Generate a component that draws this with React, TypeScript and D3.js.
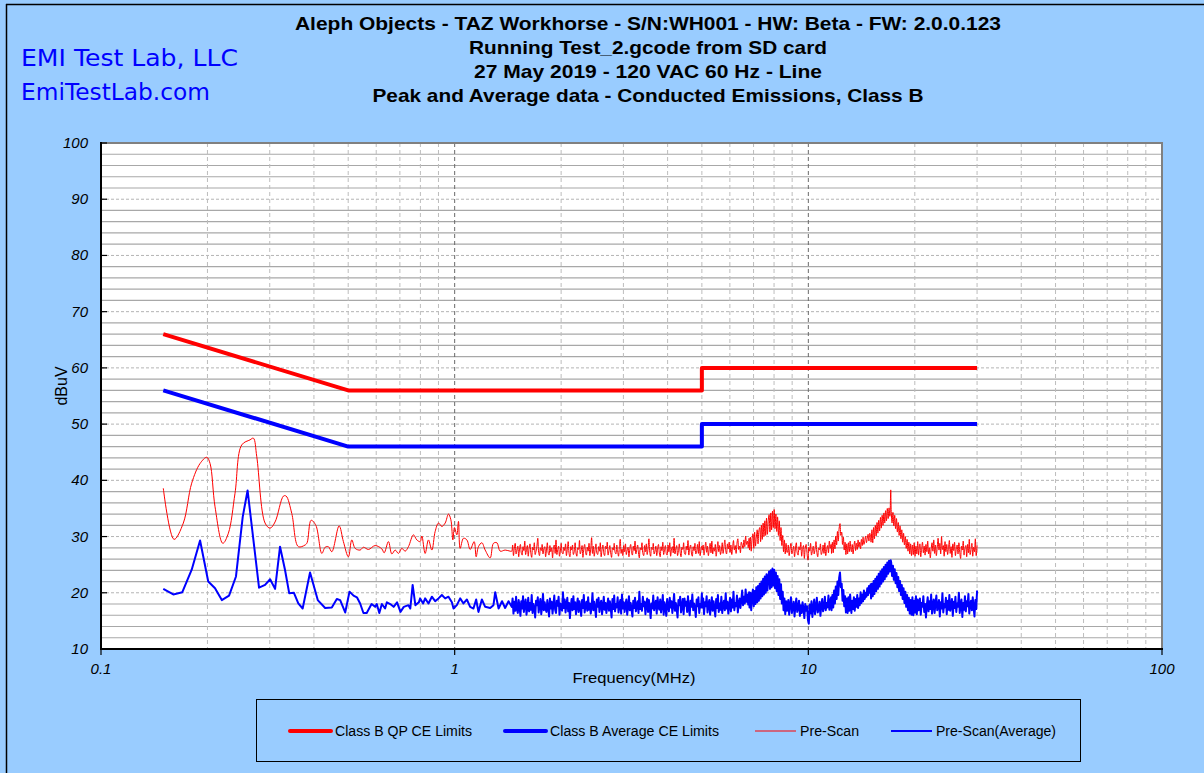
import React from "react";
import * as d3 from "d3";

// ---------- DATA ----------
const titleLines = [
  "Aleph Objects - TAZ Workhorse - S/N:WH001 - HW: Beta - FW: 2.0.0.123",
  "Running Test_2.gcode from SD card",
  "27 May 2019 - 120 VAC 60 Hz - Line",
  "Peak and Average data - Conducted Emissions, Class B",
];
const titleWidths = [706, 358, 348, 551];
const yTicks = [10, 20, 30, 40, 50, 60, 70, 80, 90, 100];
const xTicks = [0.1, 1, 10, 100];
const xTickLabels = ["0.1", "1", "10", "100"];

// Limits [MHz, dBuV]
const qpLimit: [number, number][] = [[0.15, 66], [0.5, 56], [5, 56], [5, 60], [30, 60]];
const avgLimit: [number, number][] = [[0.15, 56], [0.5, 46], [5, 46], [5, 50], [30, 50]];

// Pre-scan (peak), low-frequency part [MHz, dBuV]
const peakLow: [number, number][] = [
  [0.150, 38.6], [0.1609, 29.5], [0.1709, 32.4], [0.1805, 39.5], [0.1906, 43.0], [0.1991, 44.1],
  [0.2034, 43.0], [0.2101, 35.3], [0.2210, 28.8], [0.2292, 30.6], [0.2393, 37.7], [0.2500, 46.3],
  [0.2639, 47.2], [0.2697, 47.5], [0.2757, 44.2], [0.2910, 32.4], [0.3007, 31.5], [0.3106, 32.6],
  [0.3280, 37.2], [0.3338, 37.2], [0.3463, 34.1], [0.3614, 28.2], [0.3776, 28.5], [0.3826, 28.9],
  [0.3927, 32.9], [0.4050, 32.0], [0.4211, 27.0], [0.4303, 28.1], [0.4396, 28.2], [0.4494, 27.3],
  [0.4713, 31.9], [0.4846, 29.1], [0.5006, 26.4], [0.5118, 29.4], [0.5231, 27.9], [0.5404, 27.6],
  [0.5521, 28.1], [0.5704, 27.7], [0.5958, 28.4], [0.6225, 27.8], [0.6319, 27.1], [0.6498, 29.1],
  [0.6643, 26.9], [0.6788, 27.6], [0.6935, 27.0], [0.7089, 27.9], [0.7244, 27.4], [0.7401, 28.2],
  [0.7645, 30.3], [0.7818, 29.4], [0.7987, 29.1], [0.8076, 30.1], [0.8251, 27.0], [0.8432, 29.4],
  [0.8620, 27.6], [0.8807, 30.9], [0.9000, 32.4], [0.9200, 31.8], [0.9400, 32.4], [0.9605, 34.0],
  [0.9755, 33.0], [0.9883, 29.4], [0.9986, 31.6], [1.0143, 30.3], [1.0250, 32.7], [1.0365, 27.9],
  [1.0590, 29.7], [1.0827, 29.4], [1.1061, 27.7], [1.1354, 29.1], [1.1502, 26.4], [1.1674, 28.2],
  [1.1937, 28.9], [1.2198, 27.6], [1.2600, 26.2], [1.2873, 28.8], [1.3163, 28.9], [1.3450, 27.4],
  [1.3890, 27.6], [1.4355, 27.4],
];

// Pre-scan (average), low-frequency part [MHz, dBuV]
const avgLow: [number, number][] = [
  [0.150, 20.7], [0.1601, 19.7], [0.1698, 20.1], [0.1805, 24.1], [0.1906, 29.3], [0.2010, 22.0],
  [0.2101, 20.8], [0.2196, 18.7], [0.2302, 19.5], [0.2408, 22.9], [0.2516, 33.5], [0.2597, 38.2],
  [0.2798, 20.9], [0.2910, 21.4], [0.3007, 22.4], [0.3106, 20.7], [0.3208, 28.2], [0.3313, 24.1],
  [0.3406, 19.9], [0.3512, 20.0], [0.3613, 18.1], [0.3717, 17.2], [0.3900, 23.6], [0.4101, 18.7],
  [0.4303, 17.3], [0.4494, 17.4], [0.4643, 18.9], [0.4745, 18.7], [0.4903, 16.5], [0.5043, 20.2],
  [0.5176, 19.5], [0.5292, 19.2], [0.5404, 18.1], [0.5521, 16.4], [0.5640, 16.4], [0.5822, 18.0],
  [0.5958, 17.5], [0.6022, 18.0], [0.6123, 16.4], [0.6225, 18.0], [0.6357, 17.2], [0.6431, 18.3],
  [0.6573, 18.0], [0.6721, 17.5], [0.6872, 18.3], [0.7026, 16.6], [0.7180, 17.5], [0.7401, 17.8],
  [0.7491, 17.2], [0.7606, 21.4], [0.7743, 17.8], [0.7920, 18.3], [0.7987, 19.0], [0.8145, 18.1],
  [0.8251, 19.0], [0.8432, 18.1], [0.8620, 19.3], [0.8807, 18.5], [0.9000, 19.0], [0.9200, 19.6],
  [0.9400, 19.0], [0.9605, 19.3], [0.9820, 18.3], [0.9925, 17.2], [1.0143, 17.8], [1.0365, 19.0],
  [1.0590, 18.1], [1.0827, 18.8], [1.1061, 17.5], [1.1302, 17.2], [1.1502, 18.8], [1.1674, 16.6],
  [1.1937, 18.8], [1.2198, 17.5], [1.2600, 17.3], [1.2873, 17.8], [1.3020, 20.1], [1.3310, 17.2],
  [1.3610, 18.5], [1.3890, 17.3], [1.4200, 18.5],
];

// Dense scan, read band by band (samples spread evenly over each band on the log axis)
const peakA = [
  27.4,28.5,26.6,27.9,28.8,26.9,27.6,28.3,26.4,27.8, 28.6,27.1,26.7,28.2,27.5,29.2,26.8,27.7,28.4,26.5,
  27.9,28.7,27.0,26.3,28.1,27.6,28.9,26.8,27.4,28.3, 29.7,27.2,26.6,28.0,27.5,28.6,26.9,27.8,28.2,26.4,
  27.6,28.9,27.1,26.7,28.4,27.3,28.0,26.2,27.9,28.5, 27.0,29.4,26.8,27.7,28.3,26.5,27.4,28.8,27.2,26.9,
  28.1,27.5,28.7,26.6,27.8,29.1,27.0,26.4,28.2,27.6, 28.5,26.8,27.3,28.9,27.1,26.5,28.0,27.7,29.3,26.9,
  27.5,28.4,26.3,27.9,28.6,27.2,26.7,28.1,27.4,28.8, 26.6,27.8,29.8,27.0,28.3,26.5,27.6,28.7,27.1,26.8,
  28.2,27.4,28.9,26.4,27.7,28.5,27.0,26.6,28.3,27.8, 29.0,26.7,27.5,28.4,27.1,26.3,28.0,27.6,28.8,27.2,
  26.9,28.5,27.4,26.5,28.2,29.5,27.0,27.8,26.6,28.4, 27.3,28.7,26.8,27.6,28.1,26.4,27.9,28.6,27.2,26.7,
  28.3,27.5,29.2,26.9,27.7,28.5,27.1,26.2,28.0,27.6, 28.9,27.0,26.6,28.4,27.3,28.7,26.8,27.9,29.6,27.2,
  26.5,28.1,27.7,28.8,26.9,27.4,28.3,26.6,27.8,28.6, 27.1,26.4,28.2,27.5,29.0,26.8,27.7,28.4,27.0,26.7,
  28.5,27.3,28.9,26.5,27.6,28.2,27.1,29.7,26.9,27.8, 28.4,26.6,27.5,28.7,27.2,26.4,28.1,27.7,28.9,27.0,
  26.8,28.3,27.6,29.3,26.7,27.9,28.5,27.1,26.5,28.2, 27.5,28.8,26.9,27.4,28.6,27.0,29.1,26.6,27.8,28.3,
];
const avgA = [
  17.5,19.0,16.3,18.4,16.8,19.3,17.1,16.4,18.7,17.6, 15.9,18.5,17.2,19.4,16.6,17.9,18.8,16.1,17.4,19.1,
  16.7,18.2,17.0,19.6,16.4,18.0,17.3,15.6,18.6,17.8, 19.2,16.5,17.7,18.9,16.2,17.5,19.8,16.9,18.3,17.1,
  16.6,18.7,17.4,15.8,19.0,17.2,18.4,16.3,17.9,19.5, 17.0,16.4,18.6,17.7,19.3,16.1,18.1,17.5,16.8,20.1,
  17.3,18.8,16.5,17.9,19.1,16.7,18.2,15.5,17.6,18.9, 16.9,19.4,17.1,18.3,16.2,17.8,19.0,16.6,18.5,17.4,
  15.9,18.7,17.3,19.6,16.5,17.7,18.4,16.8,19.2,17.0, 18.1,16.3,17.6,19.9,16.9,18.4,17.2,15.7,18.8,17.5,
  19.1,16.6,17.9,18.6,16.2,17.4,19.3,17.0,18.2,16.4, 17.7,19.0,16.8,18.5,17.3,15.6,18.9,17.1,19.5,16.7,
  18.0,17.4,19.2,16.5,17.8,18.7,16.3,19.7,17.2,18.3, 16.6,17.9,18.8,16.1,17.5,19.4,16.9,18.2,17.0,15.8,
  18.6,17.3,19.1,16.7,17.7,18.5,16.4,20.2,17.1,18.0, 16.8,19.3,17.6,18.4,16.2,17.9,19.0,16.6,18.7,17.4,
  15.5,18.1,17.2,19.5,16.9,17.8,18.6,16.3,19.2,17.5, 17.0,18.8,16.5,17.7,19.6,16.1,18.3,17.3,15.9,18.9,
  17.6,16.7,19.1,17.4,18.5,16.4,17.9,19.8,16.8,18.2, 17.1,15.6,18.7,17.8,19.3,16.5,17.5,18.9,16.2,19.0,
  17.7,18.4,16.6,19.4,17.2,16.0,18.6,17.5,19.7,16.9, 18.1,17.3,15.7,18.8,17.6,19.2,16.4,18.0,17.4,19.9,
];
const peakB = [
  27.6,28.5,26.7,27.9,29.0,27.2,28.3,26.6,27.7,28.8, 27.1,29.2,26.9,28.0,27.4,28.6,26.5,27.8,29.1,27.3,
  28.4,26.8,27.6,28.9,27.0,28.2,29.4,27.5,26.9,28.7, 27.8,29.0,27.2,28.5,26.8,28.1,29.3,27.6,28.4,27.0,
  28.8,29.6,27.7,28.3,27.1,29.0,28.5,27.9,29.4,28.2, 30.1,28.6,29.2,28.0,29.7,
];
const avgB = [
  17.4,19.0,16.2,18.3,17.6,19.4,16.5,17.9,18.7,16.1, 17.5,19.2,16.8,18.5,17.1,15.8,18.9,17.3,19.6,16.6,
  18.1,17.0,19.3,16.4,17.8,18.6,16.9,19.9,17.2,18.4, 16.3,17.7,19.1,16.7,18.8,17.4,20.2,16.9,18.2,17.6,
  19.5,16.5,18.0,19.0,17.3,18.7,20.4,17.8,19.3,18.1, 20.6,18.4,19.7,17.9,20.1,
];
const peakC = [
  27.6,29.9,27.4,29.6,30.5,27.9,30.8,28.3,29.9,31.2, 28.7,31.0,31.6,29.1,32.0,29.5,32.4,30.0,32.8,30.2,
  33.3,30.4,32.7,33.9,30.8,34.2,31.2,34.5,31.6,34.8, 31.4,34.0,30.9,33.5,30.2,32.8,29.3,31.6,28.4,30.2,
  27.3,29.4,26.9,28.8,27.2,
];
const avgC = [
  17.4,20.0,16.9,19.5,20.6,17.6,20.3,18.0,21.0,18.3, 21.2,18.6,21.6,19.0,22.0,19.4,22.5,19.7,22.9,20.0,
  23.3,20.4,22.8,23.8,20.7,24.0,21.0,24.3,21.3,24.1, 20.8,23.6,20.3,23.0,19.6,22.4,18.9,21.5,18.1,20.2,
  16.9,19.0,16.2,18.5,16.8,
];
const peakD = [
  27.2,28.5,26.6,27.9,28.8,26.9,27.5,28.3,26.4,27.8, 28.9,27.1,26.7,28.2,27.6,29.0,26.5,27.7,28.4,26.1,
  27.9,28.6,27.0,25.8,28.1,27.4,28.8,26.7,27.5,28.3, 26.9,27.8,29.1,27.2,26.4,28.0,27.6,28.7,26.8,27.3,
  28.5,27.0,28.9,26.6,27.7,28.4,27.1,29.2,27.9,28.6,
];
const avgD = [
  17.0,18.7,16.1,17.9,19.2,16.4,17.5,18.4,15.8,17.7, 19.0,16.6,17.3,18.6,15.9,17.8,16.4,18.3,17.1,15.5,
  18.0,16.8,17.6,15.2,14.5,17.9,16.3,18.5,15.7,17.4, 18.8,16.2,17.6,19.1,16.5,17.2,18.4,15.9,17.8,18.9,
  16.7,17.5,19.3,16.9,18.2,17.4,19.5,17.0,18.6,19.2,
];
const peakE = [27.0,29.0,27.1,29.4,27.8,30.1,28.5,30.9,29.2,31.5,32.3,30.2,30.8,28.6,29.9,27.6,29.0,26.8,28.7,26.9,28.9,27.3,29.2,27.6];
const avgE = [16.9,19.6,17.4,20.4,18.1,21.1,18.9,22.0,19.6,22.7,23.6,21.0,21.6,18.6,20.5,17.6,19.4,16.5,19.0,16.4,19.2,16.8,19.7,17.5];
const peakF = [27.3,28.6,26.9,28.3,29.2,27.5,28.8,27.7,29.4,28.1,29.0,27.8,29.5,28.4,29.9,28.6,29.3,30.1,28.9,29.7,30.4,29.2,30.6,29.8];
const avgF = [16.4,18.6,17.1,19.2,16.8,18.9,17.5,19.6,17.3,19.0,17.8,20.1,18.2,19.7,18.5,20.4,18.9,20.0,19.3,20.8,19.6,21.2,20.0,21.5];
const peakG = [29.0,31.2,28.9,31.6,29.6,32.0,30.1,32.5,30.6,32.9,31.0,33.4,31.5,33.8,32.0,34.2,32.4,34.6,32.8,35.0,33.2,35.1,33.6,38.3];
const avgG = [19.0,21.6,19.4,22.1,19.8,22.5,20.3,22.9,20.7,23.4,21.1,23.8,21.6,24.2,22.0,24.6,22.4,25.0,22.9,25.4,23.4,25.7,23.8,25.8];
const peakH = [
  34.8,32.4,34.3,31.9,33.8,31.4,33.2,30.8,32.5,30.2,31.9,29.6,31.2,29.0,30.6,28.5,
  30.0,27.9,29.5,27.4,29.0,26.9,28.7,26.6,28.5,26.8,28.9,26.5,28.3,26.9,29.1,26.7,
];
const avgH = [
  25.4,23.0,24.8,22.3,24.2,21.7,23.5,21.0,22.8,20.3,22.1,19.6,21.4,18.9,20.8,18.2,
  20.2,17.5,19.6,16.9,19.1,16.3,18.7,16.1,19.2,16.0,18.6,16.5,19.4,16.2,18.8,16.9,
];
const peakI = [
  27.5,28.7,26.4,27.9,29.0,27.1,28.3,26.7,28.6,27.3, 29.2,26.9,28.0,26.2,27.8,28.9,27.4,29.4,27.0,28.5,
  26.6,28.1,29.7,27.6,28.8,26.9,30.0,27.7,28.4,26.5, 29.1,27.3,28.6,26.8,27.9,29.3,27.0,28.2,26.3,28.7,
  27.5,29.0,26.6,27.8,28.5,26.9,28.9,27.2,26.1,28.3, 27.6,29.2,26.7,27.9,28.4,26.4,28.6,27.1,29.5,26.8,
  27.7,28.8,26.5,28.1,27.3,29.6,26.6,28.4,
];
const avgI = [
  17.3,19.0,16.1,18.2,17.5,19.4,16.6,18.0,15.6,17.8, 19.2,16.7,18.5,17.1,19.7,16.3,17.9,18.8,16.4,18.1,
  19.5,16.9,17.6,18.7,15.8,18.3,17.2,19.9,16.5,18.0, 17.4,19.1,16.2,18.6,17.0,19.6,16.8,17.7,18.9,15.9,
  18.4,17.3,19.3,16.6,18.1,17.5,20.0,16.4,17.9,18.8, 15.7,18.2,17.0,19.4,16.7,18.5,17.6,19.8,16.3,17.8,
  18.6,16.9,19.2,17.4,15.8,18.7,17.1,20.4,
];
// band edges in MHz
const bandEdges = [1.45, 5, 6.8, 8.7, 11.6, 13.2, 15, 17.1, 20.5, 30];
const peakBands = [peakA, peakB, peakC, peakD, peakE, peakF, peakG, peakH, peakI];
const avgBands = [avgA, avgB, avgC, avgD, avgE, avgF, avgG, avgH, avgI];

const legendLabels = ["Class B QP CE Limits", "Class B Average CE Limits", "Pre-Scan", "Pre-Scan(Average)"];
const legendColors = ["#FF0000", "#0000FF", "#FF0000", "#0000FF"];
const legendStrokes = [4, 4, 1, 2];
const legendX = [290, 505, 755, 891];
const legendTextWidths = [137, 169, 59, 120];

// ---------- CHART ----------
const W = 1204, H = 773;
const L = 101, R = 1162, T = 143, B = 649;
const FONT = "'Liberation Sans', Arial, Helvetica, sans-serif";

function bandPoints(bands: number[][]): [number, number][] {
  const pts: [number, number][] = [];
  bands.forEach((vals, b) => {
    const f0 = bandEdges[b], f1 = bandEdges[b + 1];
    const n = vals.length;
    vals.forEach((v, i) => {
      const t = b === 0 ? i / (n - 1) : (i + 0.5) / (n - 0.5);
      const f = f0 * Math.pow(f1 / f0, Math.min(1, t));
      pts.push([f, v]);
    });
  });
  return pts;
}

export default function App() {
  const x = d3.scaleLog().domain([0.1, 100]).range([L, R]);
  const y = d3.scaleLinear().domain([10, 100]).range([B, T]);

  const lineLin = d3.line<[number, number]>().x((d) => x(d[0])).y((d) => y(d[1]));
  const lineSmooth = d3
    .line<[number, number]>()
    .x((d) => x(d[0]))
    .y((d) => y(d[1]))
    .curve(d3.curveCatmullRom.alpha(0.5));

  const peakAll = [...peakLow, ...bandPoints(peakBands)];
  const avgAll = [...avgLow, ...bandPoints(avgBands)];

  const hMinor: number[] = [];
  for (let v = 12; v < 100; v += 2) if (v % 10 !== 0) hMinor.push(v);
  const hMajor = [20, 30, 40, 50, 60, 70, 80, 90];
  const vMinor: number[] = [];
  [0.1, 1, 10].forEach((dec) => {
    for (let k = 2; k <= 9; k++) vMinor.push(dec * k);
  });
  const vMajor = [1, 10];

  return (
    <svg
      width={W}
      height={H}
      style={{ position: "absolute", left: 0, top: 0, display: "block" }}
      xmlns="http://www.w3.org/2000/svg"
    >
      <defs>
        <clipPath id="plotClip">
          <rect x={L} y={T} width={R - L} height={B - T} />
        </clipPath>
      </defs>
      <rect x={0} y={0} width={W} height={H} fill="#99CCFF" />
      <line x1={6} y1={4.5} x2={W} y2={4.5} stroke="#000" strokeWidth={1.5} />
      <line x1={6.5} y1={4} x2={6.5} y2={H} stroke="#000" strokeWidth={1.5} />

      <text x={21} y={66} fill="#0000FF" fontFamily="'DejaVu Sans', sans-serif" fontSize={23} textLength={217} lengthAdjust="spacingAndGlyphs">
        EMI Test Lab, LLC
      </text>
      <text x={21} y={100} fill="#0000FF" fontFamily="'DejaVu Sans', sans-serif" fontSize={23} textLength={189} lengthAdjust="spacingAndGlyphs">
        EmiTestLab.com
      </text>

      {titleLines.map((t, i) => (
        <text
          key={i}
          x={648}
          y={30 + i * 24}
          textAnchor="middle"
          fontFamily={FONT}
          fontWeight="bold"
          fontSize={19}
          fill="#000"
          textLength={titleWidths[i]}
          lengthAdjust="spacingAndGlyphs"
        >
          {t}
        </text>
      ))}

      <rect x={L} y={T} width={R - L} height={B - T} fill="#FFFFFF" />
      {hMinor.map((v) => (
        <line key={"hm" + v} x1={L} x2={R} y1={y(v)} y2={y(v)} stroke="#A8A8A8" strokeWidth={1.2} />
      ))}
      {hMajor.map((v) => (
        <line key={"hM" + v} x1={L} x2={R} y1={y(v)} y2={y(v)} stroke="#B4B4B4" strokeWidth={1} strokeDasharray="3,2" />
      ))}
      {vMinor.map((f) => (
        <line key={"vm" + f} x1={x(f)} x2={x(f)} y1={T} y2={B} stroke="#BDBDBD" strokeWidth={1} strokeDasharray="4,3" />
      ))}
      {vMajor.map((f) => (
        <line key={"vM" + f} x1={x(f)} x2={x(f)} y1={T} y2={B} stroke="#6A6A6A" strokeWidth={1} strokeDasharray="4,3" />
      ))}

      <line x1={L} x2={R + 1} y1={T} y2={T} stroke="#808080" strokeWidth={2} />
      <line x1={R} x2={R} y1={T} y2={B} stroke="#808080" strokeWidth={2} />
      <line x1={L} x2={L} y1={T - 1} y2={B + 1} stroke="#000" strokeWidth={2} />
      <line x1={L} x2={R + 1} y1={B} y2={B} stroke="#000" strokeWidth={2} />

      {yTicks.map((v) => (
        <line key={"yt" + v} x1={L} x2={L + 6} y1={y(v)} y2={y(v)} stroke="#000" strokeWidth={1.2} />
      ))}
      {xTicks.map((f) => (
        <line key={"xt" + f} x1={x(f)} x2={x(f)} y1={B} y2={B + 6} stroke="#000" strokeWidth={1.2} />
      ))}

      <g clipPath="url(#plotClip)">
        <path d={lineSmooth(peakAll) || ""} fill="none" stroke="#FF0000" strokeWidth={1} strokeLinejoin="round" />
        <path d={lineLin(avgAll) || ""} fill="none" stroke="#0000FF" strokeWidth={2} strokeLinejoin="round" />
        <path d={lineLin(qpLimit) || ""} fill="none" stroke="#FF0000" strokeWidth={4} strokeLinejoin="round" />
        <path d={lineLin(avgLimit) || ""} fill="none" stroke="#0000FF" strokeWidth={4} strokeLinejoin="round" />
      </g>

      {yTicks.map((v) => (
        <text key={"yl" + v} x={88} y={y(v) + 5} textAnchor="end" fontFamily={FONT} fontStyle="italic" fontSize={15} fill="#000">
          {v}
        </text>
      ))}
      {xTicks.map((f, i) => (
        <text key={"xl" + f} x={x(f)} y={674} textAnchor="middle" fontFamily={FONT} fontStyle="italic" fontSize={15} fill="#000">
          {xTickLabels[i]}
        </text>
      ))}
      <text x={634} y={683} textAnchor="middle" fontFamily={FONT} fontSize={15} fill="#000" textLength={123} lengthAdjust="spacingAndGlyphs">
        Frequency(MHz)
      </text>
      <text transform="translate(67,386) rotate(-90)" textAnchor="middle" fontFamily={FONT} fontSize={16} fill="#000">
        dBuV
      </text>

      <rect x={256.5} y={699.5} width={824} height={62} fill="none" stroke="#000" strokeWidth={1} />
      {legendLabels.map((label, i) => (
        <g key={label}>
          <line
            x1={legendX[i]}
            x2={legendX[i] + 41}
            y1={731}
            y2={731}
            stroke={legendColors[i]}
            strokeWidth={legendStrokes[i]}
            strokeLinecap={legendStrokes[i] > 2 ? "round" : "butt"}
          />
          <text
            x={legendX[i] + 45}
            y={736}
            fontFamily={FONT}
            fontSize={14}
            fill="#000"
            textLength={legendTextWidths[i]}
            lengthAdjust="spacingAndGlyphs"
          >
            {label}
          </text>
        </g>
      ))}
    </svg>
  );
}
